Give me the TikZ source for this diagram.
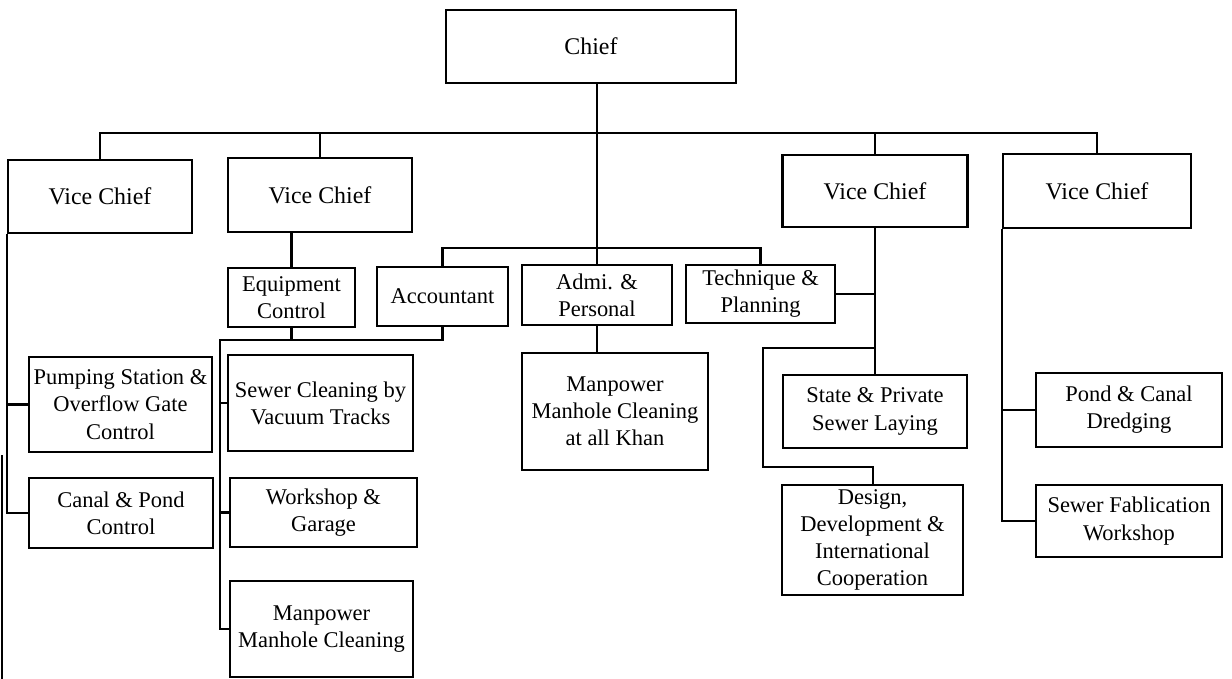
\documentclass[tikz,border=0pt]{standalone}
\usepackage{fontspec}
\setmainfont{Liberation Serif}

\begin{document}
\begin{tikzpicture}[
            x = 0.02cm, y = -0.02cm, % one unit = one pixel of the scan
            line width = 1.3pt, % line style
            font = \fontsize{12.8}{15.5}\selectfont
        ]

        \tikzstyle{unit}=[
            draw = black,
            line width = 1.3pt,
            fill = white,
            align = center,
            inner sep = 1pt
        ]
        \tikzstyle{head}=[
            unit,
            font = \fontsize{13.6}{16}\selectfont
        ]
        \tikzset{dims/.style 2 args={minimum width = #1*0.02cm, minimum height = #2*0.02cm}}

        \useasboundingbox (0,0) rectangle (1232,679);

        % top of the chart
        \node[head, dims={290}{73}] (chief) at (591,46.5) {Chief};
        \node[head, dims={184}{73}] (vc1) at (100,196.5) {Vice Chief};
        \node[head, dims={184}{74}] (vc2) at (320,195) {Vice Chief};
        \node[head, dims={185}{72}] (vc3) at (875,191) {Vice Chief};
        \node[head, dims={188}{74}] (vc4) at (1097,191) {Vice Chief};

        % middle row
        \node[unit, dims={127}{59}] (equip) at (291.5,297.5) {Equipment\\Control};
        \node[unit, dims={131}{59}] (acct) at (442.5,296.5) {Accountant};
        \node[unit, dims={150}{60}] (admi) at (597,295) {Admi. \&\\Personal};
        \node[unit, dims={149}{58}] (tech) at (760.5,294) {Technique \&\\Planning};

        % sections
        \node[unit, dims={183}{95}] (pump) at (120.5,404.5) {Pumping Station \&\\Overflow Gate\\Control};
        \node[unit, dims={184}{70}] (canal) at (121,513) {Canal \& Pond\\Control};
        \node[unit, dims={185}{96}] (sewer) at (320.5,403) {Sewer Cleaning by\\Vacuum Tracks};
        \node[unit, dims={187}{69}] (work) at (323.5,512.5) {Workshop \&\\Garage};
        \node[unit, dims={183}{96}] (mpw) at (321.5,629) {Manpower\\Manhole Cleaning};
        \node[unit, dims={186}{117}] (khan) at (615,411.5) {Manpower\\Manhole Cleaning\\at all Khan};
        \node[unit, dims={184}{73}] (state) at (875,411.5) {State \& Private\\Sewer Laying};
        \node[unit, dims={181}{110}] (design) at (872.5,540) {Design,\\Development \&\\International\\Cooperation};
        \node[unit, dims={186}{74}] (pond) at (1129,410) {Pond \& Canal\\Dredging};
        \node[unit, dims={186}{72}] (fab) at (1129,521) {Sewer Fablication\\Workshop};

        \coordinate (bus) at (0,133);
        \coordinate (staff) at (0,248);
        \coordinate (equipbus) at (220,340);
        \coordinate (loopl) at (763,348);
        \coordinate (loopr) at (873,467);

        % chief and vice chiefs
        \draw (chief.south -| admi.north) -- (admi.north);
        \draw (vc1.north) -- (vc1.north |- bus) -- (vc4.north |- bus) -- (vc4.north);
        \draw (vc2.north) -- (vc2.north |- bus);
        \draw (vc3.north) -- (vc3.north |- bus);

        % staff units
        \draw (acct.north) -- (acct.north |- staff) -- (tech.north |- staff) -- (tech.north);
        \draw (admi.south) -- (admi.south |- khan.north);

        % first vice chief
        \draw (vc1.south west) |- (canal.west);
        \draw (pump.west) -- (pump.west -| vc1.south west);

        % second vice chief
        \draw (vc2.south -| equip.north) -- (equip.north);
        \draw (equip.south) -- (equip.south |- equipbus);
        \draw (acct.south) |- (equipbus) |- (mpw.west);
        \draw (sewer.west) -- (sewer.west -| equipbus);
        \draw (work.west) -- (work.west -| equipbus);

        % third vice chief
        \draw (vc3.south) -- (state.north);
        \draw (tech.east) -- (tech.east -| vc3.south);
        \draw (state.north |- loopl) -- (loopl) |- (loopr) -- (design.north -| loopr);

        % fourth vice chief
        \draw (vc4.south west) |- (fab.west);
        \draw (pond.west) -- (pond.west -| vc4.south west);

        % edge of the scanned page
        \draw (2,455) -- (2,679);
     \end{tikzpicture}
\end{document}
